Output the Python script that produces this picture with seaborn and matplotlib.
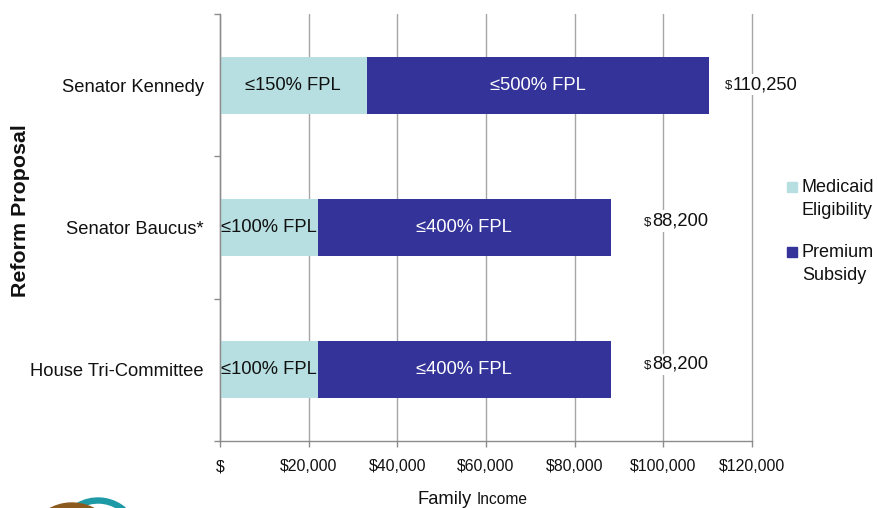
import matplotlib
matplotlib.use('Agg')
import matplotlib.pyplot as plt
import seaborn as sns
import pandas as pd
from matplotlib.patches import Rectangle, Wedge
from matplotlib.transforms import IdentityTransform

# ---- data ----
proposals = ['Senator Kennedy', 'Senator Baucus*', 'House Tri-Committee']
medicaid = [33075, 22050, 22050]
totals = [110250, 88200, 88200]
medicaid_labels = ['≤150% FPL', '≤100% FPL', '≤100% FPL']
subsidy_labels = ['≤500% FPL', '≤400% FPL', '≤400% FPL']
total_labels = ['110,250', '88,200', '88,200']
series = ['Medicaid\nEligibility', 'Premium\nSubsidy']
xticks = [0, 20000, 40000, 60000, 80000, 100000, 120000]
xtick_labels = ['$', '$20,000', '$40,000', '$60,000', '$80,000', '$100,000', '$120,000']

# ---- style ----
LIGHT = '#B7DFE1'
DARK = '#333399'
GRID = '#A6A6A6'
AXC = '#8C8C8C'

sns.set_theme(style='white')
plt.rcParams['font.family'] = ['Liberation Sans', 'DejaVu Sans']

W, H = 879, 508
fig = plt.figure(figsize=(W / 100, H / 100), dpi=100)
ax = fig.add_axes([220 / W, 1 - 441 / H, 532 / W, 427 / H])

df = pd.DataFrame({'proposal': proposals, 'medicaid': medicaid, 'total': totals})
sns.barplot(data=df, y='proposal', x='total', color=DARK, saturation=1,
            width=0.4, errorbar=None, orient='h', edgecolor='none', ax=ax)
sns.barplot(data=df, y='proposal', x='medicaid', color=LIGHT, saturation=1,
            width=0.4, errorbar=None, orient='h', edgecolor='none', ax=ax)

ax.set_xlim(0, 120000)
ax.set_ylim(2.5, -0.5)
ax.set_xlabel('')
ax.set_ylabel('')

ax.xaxis.grid(True, color=GRID, lw=1)
ax.yaxis.grid(False)
ax.set_axisbelow(True)
for s in ['top', 'right']:
    ax.spines[s].set_visible(False)
for s in ['left', 'bottom']:
    ax.spines[s].set_color(AXC)
    ax.spines[s].set_linewidth(1)

ax.set_xticks(xticks)
ax.set_xticklabels(xtick_labels, fontsize=11.4, color='#111111')
ax.tick_params(axis='x', which='major', length=4, width=1, color=AXC,
               direction='out', pad=9, bottom=True)
for gl in ax.get_xgridlines():
    gl.set_clip_on(False)

ax.set_yticks(range(len(proposals)))
ax.set_yticklabels(proposals, fontsize=13.2, color='#111111')
ax.tick_params(axis='y', which='major', length=0, pad=11.5, left=True)
ax.set_yticks([-0.5, 0.5, 1.5, 2.5], minor=True)
ax.tick_params(axis='y', which='minor', length=4, width=1, color=AXC,
               direction='out', left=True)

# segment labels
for i in range(len(proposals)):
    ax.text(medicaid[i] / 2, i, medicaid_labels[i], ha='center', va='center',
            fontsize=13.2, color='#111111')
    ax.text((medicaid[i] + totals[i]) / 2, i, subsidy_labels[i], ha='center',
            va='center', fontsize=13.2, color='white')

# total labels
num_offsets_px = [24, 41, 41]
base_offsets_px = [4, -2, -1]
for i in range(len(proposals)):
    dx = num_offsets_px[i] * 0.72
    dy = -base_offsets_px[i] * 0.72
    ax.annotate(total_labels[i], xy=(totals[i], i), xytext=(dx, dy),
                textcoords='offset points', ha='left', va='baseline',
                fontsize=13.2, color='#111111',
                bbox=dict(fc='white', ec='none', pad=1.5))
    ax.annotate('$', xy=(totals[i], i), xytext=(dx - 0.3, dy),
                textcoords='offset points', ha='right', va='baseline',
                fontsize=9.5, color='#111111')

# axis titles
fig.text(21 / W, 1 - 211 / H, 'Reform Proposal', rotation=90, ha='center',
         va='center', fontsize=15.4, fontweight='bold', color='#111111')
fig.text(472 / W, 1 - 504 / H, 'Family', ha='right', va='baseline',
         fontsize=13.2, color='#111111')
fig.text(477 / W, 1 - 504 / H, 'Income', ha='left', va='baseline',
         fontsize=11.2, color='#111111')

# legend (manual, square aligned with first line)
leg_colors = [LIGHT, DARK]
leg_sq_top = [182, 247]
for name, col, top in zip(series, leg_colors, leg_sq_top):
    fig.patches.append(Rectangle((787 / W, 1 - (top + 10) / H), 10 / W, 10 / H,
                                 transform=fig.transFigure, color=col))
    for k, line in enumerate(name.split('\n')):
        fig.text(802 / W, 1 - (top + 10 + 23 * k) / H, line, ha='left',
                 va='baseline', fontsize=13, color='#111111')

# logo fragment (bottom-left)
fig.patches.append(Wedge((98, -32), 42, 25, 150, width=5, color='#1E9AA6',
                         transform=IdentityTransform()))
fig.patches.append(Wedge((72, -42), 47, 35, 150, width=7, color='#8B5A1E',
                         transform=IdentityTransform()))

fig.savefig('out.png', dpi=100)
